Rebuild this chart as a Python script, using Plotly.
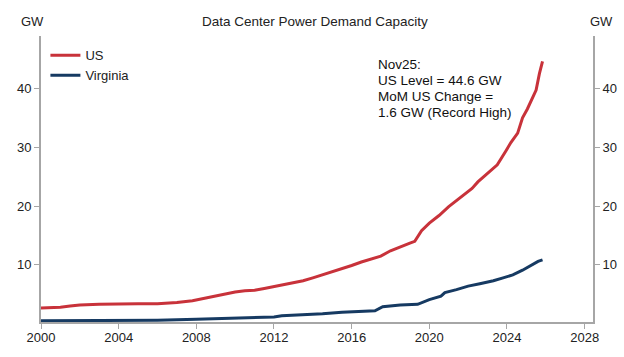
import plotly.graph_objects as go

# ---- data ----
us_years = [2000.0, 2001.0, 2001.5, 2002.0, 2003.0, 2004.0, 2005.0, 2006.0, 2007.0, 2007.8,
            2008.5, 2009.0, 2009.5, 2010.0, 2010.5, 2011.0, 2011.5, 2012.0, 2012.5, 2013.0,
            2013.5, 2014.0, 2014.5, 2015.0, 2015.5, 2016.0, 2016.5, 2017.0, 2017.5, 2018.0,
            2018.5, 2019.0, 2019.25, 2019.6, 2020.0, 2020.5, 2021.0, 2021.5, 2021.85, 2022.2,
            2022.5, 2023.0, 2023.5, 2023.95, 2024.2, 2024.55, 2024.8, 2025.05, 2025.25, 2025.5,
            2025.67, 2025.83]
us_gw = [2.7, 2.8, 3.0, 3.2, 3.3, 3.4, 3.4, 3.4, 3.6, 3.9,
         4.4, 4.8, 5.1, 5.4, 5.6, 5.7, 6.0, 6.3, 6.6, 6.9,
         7.3, 7.8, 8.3, 8.8, 9.4, 9.9, 10.5, 11.0, 11.5, 12.4,
         13.1, 13.7, 14.0, 15.8, 17.1, 18.4, 19.9, 21.2, 22.2, 23.0,
         24.1, 25.5, 27.0, 29.4, 30.8, 32.4, 35.0, 36.5, 37.8, 39.7,
         42.5, 44.6]

va_years = [2000.0, 2002.0, 2004.0, 2006.0, 2008.0, 2010.0, 2012.0, 2012.4, 2013.5, 2014.5,
            2015.5, 2016.5, 2017.2, 2017.6, 2018.5, 2019.4, 2020.0, 2020.6, 2020.8, 2021.4,
            2022.0, 2022.6, 2023.3, 2023.8, 2024.3, 2024.8, 2025.3, 2025.6, 2025.83]
va_gw = [0.5, 0.5, 0.55, 0.6, 0.75, 0.95, 1.15, 1.35, 1.5, 1.7,
         1.95, 2.1, 2.2, 2.9, 3.2, 3.3, 4.1, 4.7, 5.3, 5.8,
         6.4, 6.8, 7.3, 7.8, 8.3, 9.1, 10.0, 10.6, 10.85]

x_ticks = [2000, 2004, 2008, 2012, 2016, 2020, 2024, 2028]
y_ticks = [10, 20, 30, 40]

title = "Data Center Power Demand Capacity"
note_lines = ["Nov25:", "US Level = 44.6 GW", "MoM US Change =", "1.6 GW (Record High)"]

RED = "#C8323A"
NAVY = "#163A62"
AXC = "#A6A6A6"
TXT = "#222222"
FONT = "Liberation Sans, Arial, sans-serif"

W, H = 624, 357
ML, MR, MT, MB = 41, 31, 36, 35
PW, PH = W - ML - MR, H - MT - MB

fig = go.Figure()
fig.add_trace(go.Scatter(x=us_years, y=us_gw, mode="lines", name="US",
                         line=dict(color=RED, width=3)))
fig.add_trace(go.Scatter(x=va_years, y=va_gw, mode="lines", name="Virginia",
                         line=dict(color=NAVY, width=3)))
# invisible trace to anchor the right-hand axis
fig.add_trace(go.Scatter(x=[us_years[0]], y=[us_gw[0]], yaxis="y2", mode="lines",
                         line=dict(width=0), showlegend=False, hoverinfo="skip"))

yrange = [0.3, 48.9]
axis_common = dict(showgrid=False, zeroline=False, showline=True, linecolor=AXC,
                   linewidth=2, ticks="outside", ticklen=5, tickwidth=1, tickcolor=AXC,
                   automargin=False,
                   tickfont=dict(size=13, color=TXT, family=FONT))

fig.update_layout(
    width=W, height=H,
    margin=dict(l=ML, r=MR, t=MT, b=MB, autoexpand=False),
    paper_bgcolor="white", plot_bgcolor="white",
    font=dict(family=FONT, size=13, color=TXT),
    showlegend=True,
    legend=dict(x=0.008, y=0.985, xanchor="left", yanchor="top",
                bgcolor="rgba(0,0,0,0)", font=dict(size=13, family=FONT),
                tracegroupgap=0),
    xaxis=dict(range=[2000, 2028.43], tickmode="array", tickvals=x_ticks,
               ticktext=[str(t) for t in x_ticks], ticklabelstandoff=-3, **axis_common),
    yaxis=dict(range=yrange, tickmode="array", tickvals=y_ticks, **axis_common),
    yaxis2=dict(range=yrange, tickmode="array", tickvals=y_ticks, overlaying="y",
                side="right", **axis_common),
)

fig.add_annotation(text=title, xref="paper", yref="paper", x=0.5, xshift=-2, y=1,
                   yshift=15, xanchor="center", yanchor="middle", showarrow=False,
                   font=dict(size=13.5, family=FONT, color=TXT))
fig.add_annotation(text="GW", xref="paper", yref="paper", x=0, xshift=-9, y=1,
                   yshift=15, xanchor="center", yanchor="middle", showarrow=False,
                   font=dict(size=13, family=FONT, color=TXT))
fig.add_annotation(text="GW", xref="paper", yref="paper", x=1, xshift=8, y=1,
                   yshift=15, xanchor="center", yanchor="middle", showarrow=False,
                   font=dict(size=13, family=FONT, color=TXT))
for i, line in enumerate(note_lines):
    cy = 65 + 15.9 * i
    fig.add_annotation(text=line, xref="paper", yref="paper", x=(376 - ML) / PW,
                       y=(H - MB - cy) / PH, xanchor="left", yanchor="middle",
                       align="left", showarrow=False,
                       font=dict(size=13.5, family=FONT, color="#111111"))

fig.write_html("out.html", config={"displayModeBar": False},
               post_script="document.body.style.margin='0';")
